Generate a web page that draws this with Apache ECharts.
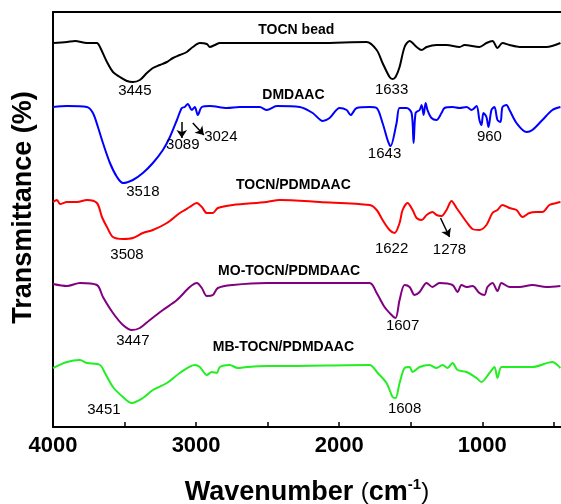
<!DOCTYPE html>
<html>
<head>
<meta charset="utf-8">
<script src="https://cdn.jsdelivr.net/npm/echarts@6/dist/echarts.min.js"></script>
<style>
  html, body { margin: 0; padding: 0; background: #fff; }
  #chart { width: 561px; height: 504px; }
</style>
</head>
<body>
<div id="chart"></div>
<script>
// FTIR spectra, curves offset vertically (arbitrary transmittance units)
var wnBead = [4000,3902,3846,3763,3693,3672,3623,3581,3532,3483,3442,3393,3344,3302,3253,3204,3162,3114,3065,3023,2974,2925,2904,2869,2834,2695,2506,2416,2136,1808,1738,1697,1648,1627,1606,1578,1543,1508,1459,1424,1389,1320,1250,1159,1124,1020,971,929,894,859,810,740,552,454];
var tBead = [384,385,386,384,384,380,365,355,350,346,345,347,354,359,362,365,369,372,375,380,384,383,380,382,384,384,384,384,384,385,377,364,350,348,350,360,380,386,380,377,380,382,382,380,382,380,384,386,379,384,382,380,380,384];

var wnDm = [4000,3902,3763,3721,3686,3651,3602,3553,3511,3442,3372,3302,3232,3183,3134,3100,3079,3058,3030,3009,2988,2960,2904,2785,2695,2555,2506,2436,2276,2185,2115,2067,1997,1948,1920,1878,1787,1738,1697,1662,1648,1641,1599,1578,1529,1494,1480,1466,1438,1424,1410,1396,1383,1355,1320,1285,1264,1208,1159,1110,1075,1040,1020,1006,992,971,957,936,915,894,873,859,831,810,761,691,650,580,510,454];
var tDm = [320,321,320,314,300,284,264,250,244,247,254,264,277,290,307,319,320,323,317,320,312,320,321,319,320,320,317,321,320,314,306,309,319,317,312,319,320,319,304,287,282,281,304,319,319,314,284,314,317,322,312,324,317,309,307,314,319,320,319,320,317,321,307,302,314,310,300,317,320,307,305,320,322,317,304,295,297,307,317,320];

var wnTp = [4000,3972,3951,3902,3832,3763,3693,3658,3623,3581,3511,3442,3372,3302,3204,3114,3044,2995,2960,2925,2883,2848,2744,2506,2416,2136,1787,1738,1697,1648,1613,1578,1557,1522,1487,1459,1424,1389,1348,1320,1285,1250,1215,1180,1145,1110,1068,1020,971,929,894,859,810,761,719,671,622,580,531,482,454];
var tTp = [225,227,223,225,225,227,224,210,200,190,188,189,194,197,204,214,220,224,220,214,214,219,222,225,227,225,222,217,207,197,194,204,217,224,217,209,207,212,215,212,211,217,226,219,212,205,198,197,202,214,217,222,219,217,210,214,215,215,222,224,225];

var wnMo = [4000,3902,3812,3693,3651,3581,3511,3449,3393,3323,3232,3134,3044,2995,2960,2925,2883,2848,2744,2506,2416,1787,1738,1683,1634,1606,1578,1543,1508,1473,1438,1389,1348,1299,1208,1173,1145,1110,1068,1020,985,964,929,894,866,810,740,650,552,454];
var tMo = [143,141,144,142,130,114,102,97,99,107,117,127,140,144,139,131,132,139,142,144,144,144,134,120,112,109,127,142,140,132,135,144,140,144,142,135,142,140,141,134,132,140,144,136,144,140,140,142,140,141];

var wnMb = [4000,3902,3812,3763,3672,3637,3581,3511,3449,3372,3302,3204,3114,3009,2974,2925,2890,2855,2834,2765,2709,2646,2506,2416,1787,1731,1669,1627,1606,1578,1543,1508,1487,1438,1369,1320,1278,1243,1208,1173,1110,1040,1006,950,915,894,866,810,650,510,475,454];
var tMb = [59,65,67,64,62,54,40,30,24,29,37,44,54,62,60,52,55,54,60,62,59,60,61,61,62,54,44,30,29,44,59,60,55,60,62,59,62,59,64,57,55,49,45,54,60,49,60,60,60,65,62,59];

var seriesNames = ['TOCN bead', 'DMDAAC', 'TOCN/PDMDAAC', 'MO-TOCN/PDMDAAC', 'MB-TOCN/PDMDAAC'];
var xLabels = [4000, 3000, 2000, 1000];
var xTicks = [4000, 3500, 3000, 2500, 2000, 1500, 1000, 500];

var FONT = '"Liberation Sans", Arial, sans-serif';

// label anchors [wavenumber, value]
var nameAt = [[2300, 397], [2320, 332], [2320, 242], [2350, 156], [2390, 80]];
var peaks = [
    [['3445', 3428, 336], ['1633', 1634, 337]],
    [['3089', 3093, 282], ['3024', 2827, 290], ['3518', 3372, 235], ['1643', 1683, 273], ['960', 950, 290]],
    [['3508', 3483, 172], ['1622', 1634, 178], ['1278', 1229, 177]],
    [['3447', 3442, 86], ['1607', 1557, 101]],
    [['3451', 3644, 17], ['1608', 1543, 18]]
];
var arrows = [
    [],
    [[[3100, 305], [3100, 289]], [[3023, 304], [2946, 292]]],
    [[[1292, 209], [1229, 190]]],
    [],
    []
];
var colors = ['#000000', '#0000ff', '#ff0000', '#800080', '#22ee22'];
var wns = [wnBead, wnDm, wnTp, wnMo, wnMb];
var ts = [tBead, tDm, tTp, tMo, tMb];

var myChart = echarts.init(document.getElementById('chart'));

var series = [];
for (var i = 0; i < seriesNames.length; i++) {
    var pts = [];
    for (var j = 0; j < wns[i].length; j++) {
        pts.push([wns[i][j], ts[i][j]]);
    }
    var mp = [{
        name: seriesNames[i],
        coord: nameAt[i],
        label: { fontWeight: 'bold', fontSize: 14 }
    }];
    peaks[i].forEach(function (p) {
        mp.push({ name: p[0], coord: [p[1], p[2]] });
    });
    var ml = arrows[i].map(function (a) {
        return [{ coord: a[0] }, { coord: a[1] }];
    });
    series.push({
        name: seriesNames[i],
        type: 'line',
        data: pts,
        smooth: 0.3,
        showSymbol: false,
        lineStyle: { color: colors[i], width: 2 },
        itemStyle: { color: colors[i] },
        markPoint: {
            symbol: 'circle',
            symbolSize: 0,
            silent: true,
            label: {
                show: true,
                position: 'inside',
                formatter: function (p) { return p.name; },
                color: '#000',
                fontSize: 15,
                fontFamily: FONT
            },
            data: mp
        },
        markLine: {
            silent: true,
            symbol: ['none', 'arrow'],
            symbolSize: 8,
            label: { show: false },
            lineStyle: { color: '#000', width: 1.5, type: 'solid' },
            data: ml
        }
    });
}

var option = {
    animation: false,
    backgroundColor: '#fff',
    grid: { left: 53, right: 0, top: 12, bottom: 77, outerBoundsMode: 'none' },
    xAxis: [{
        type: 'value',
        inverse: true,
        min: 450,
        max: 4000,
        name: 'Wavenumber {p|(}cm{sup|-1}{p|)}',
        nameLocation: 'middle',
        nameGap: 50,
        nameTextStyle: {
            fontFamily: FONT,
            fontWeight: 'bold',
            fontSize: 27,
            color: '#000',
            rich: {
                p: { fontFamily: FONT, fontSize: 24, fontWeight: 'normal', color: '#000' },
                sup: { fontFamily: FONT, fontSize: 15, fontWeight: 'bold', color: '#000', padding: [0, 0, 16, 0] }
            }
        },
        axisLine: { show: true, lineStyle: { color: '#000', width: 2 } },
        axisTick: { show: true, inside: true, length: 5, customValues: xTicks, lineStyle: { color: '#000', width: 1.5 } },
        axisLabel: {
            customValues: xLabels,
            margin: 8,
            formatter: function (v) { return String(v); },
            fontFamily: FONT,
            fontWeight: 'bold',
            fontSize: 22,
            color: '#000'
        },
        splitLine: { show: false }
    }, {
        type: 'value',
        position: 'top',
        inverse: true,
        min: 450,
        max: 4000,
        axisLine: { show: true, lineStyle: { color: '#000', width: 2 } },
        axisTick: { show: false },
        axisLabel: { show: false },
        splitLine: { show: false }
    }],
    yAxis: {
        type: 'value',
        min: 0,
        max: 415,
        name: 'Transmittance (%)',
        nameLocation: 'middle',
        nameGap: 16,
        nameTextStyle: {
            fontFamily: FONT,
            fontWeight: 'bold',
            fontSize: 27,
            color: '#000',
            padding: [0, 0, 0, 24]
        },
        axisLine: { show: true, lineStyle: { color: '#000', width: 2 } },
        axisTick: { show: false },
        axisLabel: { show: false },
        splitLine: { show: false }
    },
    series: series
};

myChart.setOption(option);
</script>
</body>
</html>
